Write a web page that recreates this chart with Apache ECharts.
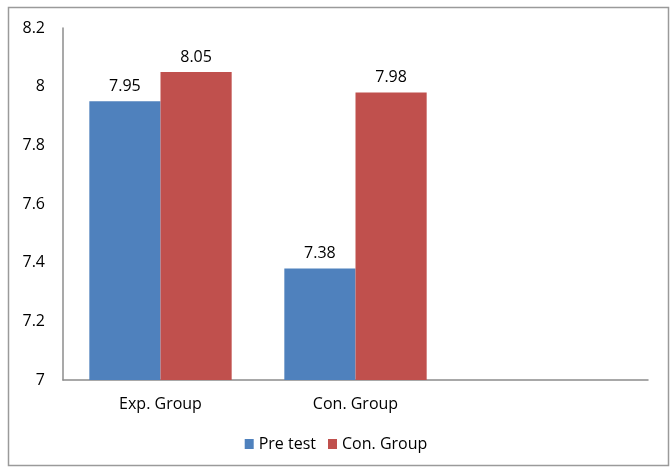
<!DOCTYPE html>
<html><head><meta charset="utf-8">
<script src="https://cdn.jsdelivr.net/npm/echarts@6/dist/echarts.min.js"></script>
<style>html,body{margin:0;padding:0;background:#fff}#c{width:672px;height:470px}</style>
</head><body><div id="c"></div>
<script>
const categories = ["Exp. Group", "Con. Group", ""];
const preTest = [7.95, 7.38, null];
const conGroup = [8.05, 7.98, null];
const seriesNames = ["Pre test", "Con. Group"];
const yTicks = {min: 7, max: 8.2, interval: 0.2};

const font = "'Open Sans', 'Liberation Sans', sans-serif";
const chart = echarts.init(document.getElementById('c'));
chart.setOption({
  animation: false,
  backgroundColor: '#fff',
  graphic: [{type: 'rect', shape: {x: 8.5, y: 7.5, width: 660, height: 458}, style: {fill: 'none', stroke: '#9a9a9a', lineWidth: 1.5}, silent: true}],
  grid: {left: 63, right: 24, top: 28, bottom: 90},
  legend: {bottom: 13, left: 'center', itemWidth: 9, itemHeight: 10, itemGap: 12, icon: 'rect',
    textStyle: {fontFamily: font, fontSize: 16, color: '#000'}, data: seriesNames},
  xAxis: {type: 'category', data: categories,
    axisLine: {lineStyle: {color: '#8c8c8c', width: 1.5}}, axisTick: {show: false},
    axisLabel: {fontFamily: font, fontSize: 16, color: '#000', margin: 16}},
  yAxis: {type: 'value', min: yTicks.min, max: yTicks.max, interval: yTicks.interval,
    axisLine: {show: true, lineStyle: {color: '#8c8c8c', width: 1.5}}, axisTick: {show: false}, splitLine: {show: false},
    axisLabel: {fontFamily: font, fontSize: 16, color: '#000', margin: 18, formatter: v => String(+v.toFixed(1))}},
  series: [
    {name: seriesNames[0], type: 'bar', data: preTest, barGap: '0%', barCategoryGap: '27%',
     itemStyle: {color: '#4F81BD'},
     label: {show: true, position: 'top', distance: 7, fontFamily: font, fontSize: 16, color: '#000'}},
    {name: seriesNames[1], type: 'bar', data: conGroup, barGap: '0%', barCategoryGap: '27%',
     itemStyle: {color: '#C0504D'},
     label: {show: true, position: 'top', distance: 7, fontFamily: font, fontSize: 16, color: '#000'}}
  ]
});
</script></body></html>
